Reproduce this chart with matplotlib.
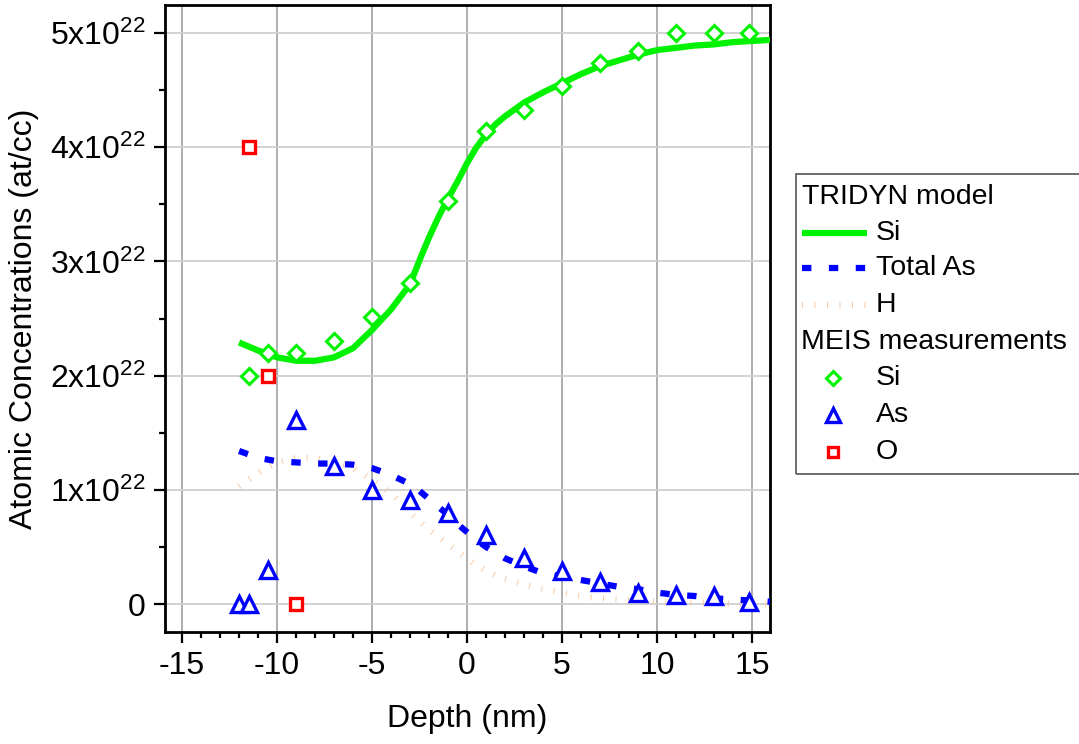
import matplotlib
matplotlib.use('Agg')
import matplotlib.pyplot as plt
from matplotlib.lines import Line2D
from matplotlib.patches import Rectangle
from matplotlib.ticker import MultipleLocator, FuncFormatter

plt.rcParams['font.family'] = ['Liberation Sans', 'DejaVu Sans']
plt.rcParams['mathtext.fontset'] = 'custom'
plt.rcParams['mathtext.rm'] = 'Liberation Sans'
plt.rcParams['mathtext.it'] = 'Liberation Sans:italic'
plt.rcParams['axes.unicode_minus'] = False

# TRIDYN model curves (concentrations in units of 1e22 at/cc)
model_depth = [-12, -11, -10, -9, -8, -7, -6, -5, -4, -3, -2.5, -2, -1.5, -1, -0.5,
               0, 0.5, 1, 1.5, 2, 3, 4, 5, 6, 7, 8, 9, 10, 11, 12, 13, 14, 15, 16]
model_si = [2.29, 2.22, 2.16, 2.13, 2.13, 2.16, 2.24, 2.40, 2.58, 2.80, 3.01, 3.21, 3.39, 3.55, 3.70,
            3.86, 4.00, 4.11, 4.20, 4.27, 4.39, 4.48, 4.56, 4.64, 4.71, 4.76, 4.81, 4.85, 4.87, 4.89,
            4.90, 4.92, 4.93, 4.94]
model_as = [1.34, 1.28, 1.25, 1.24, 1.23, 1.23, 1.22, 1.19, 1.13, 1.05, 0.99, 0.92, 0.85, 0.78, 0.70,
            0.63, 0.56, 0.50, 0.45, 0.40, 0.33, 0.27, 0.24, 0.21, 0.18, 0.15, 0.13, 0.10, 0.08, 0.07,
            0.05, 0.04, 0.03, 0.02]
model_h = [1.03, 1.15, 1.24, 1.28, 1.28, 1.25, 1.19, 1.09, 0.97, 0.80, 0.72, 0.65, 0.59, 0.53, 0.46,
           0.40, 0.34, 0.29, 0.25, 0.22, 0.17, 0.13, 0.10, 0.07, 0.05, 0.04, 0.03, 0.02, 0.02, 0.01,
           0.01, 0.0, 0.0, 0.0]

# MEIS measurements
meis_si_depth = [-11.5, -10.5, -9, -7, -5, -3, -1, 1, 3, 5, 7, 9, 11, 13, 14.85]
meis_si = [2.0, 2.2, 2.2, 2.3, 2.51, 2.81, 3.53, 4.14, 4.33, 4.54, 4.74, 4.84, 5.0, 5.0, 5.0]
meis_as_depth = [-12, -11.5, -10.5, -9, -7, -5, -3, -1, 1, 3, 5, 7, 9, 11, 13, 14.85]
meis_as = [0.0, 0.0, 0.3, 1.61, 1.21, 1.0, 0.91, 0.8, 0.6, 0.4, 0.29, 0.19, 0.1, 0.08, 0.07, 0.02]
meis_o_depth = [-11.5, -10.5, -9]
meis_o = [4.0, 2.0, 0.0]

GREEN = '#00f200'
BLUE = '#0000ff'
RED = '#ff0000'
PEACH = '#f6c8a2'

W, H = 1079, 744
fig = plt.figure(figsize=(W / 100, H / 100), dpi=100)
ax = fig.add_axes([165 / W, 1 - 632 / H, 605 / W, 627 / H])

as_dash = (1.5, 2.8)
h_dash = (0.15, 1.85)

ax.plot(model_depth, model_h, color=PEACH, lw=4.5, dashes=h_dash, dash_capstyle='butt', zorder=2)
ax.plot(model_depth, model_si, color=GREEN, lw=4.5, solid_capstyle='butt', zorder=3)
ax.plot(model_depth, model_as, color=BLUE, lw=4.5, dashes=as_dash, dash_capstyle='butt', zorder=3)

ax.plot(meis_si_depth, meis_si, ls='none', marker='D', ms=8.5, mew=2.2, mec=GREEN, mfc='white', zorder=4)
ax.plot(meis_as_depth, meis_as, ls='none', marker='^', ms=11, mew=2.4, mec=BLUE, mfc='white', zorder=4)
ax.plot(meis_o_depth, meis_o, ls='none', marker='s', ms=8, mew=2.4, mec=RED, mfc='white', zorder=4)

ax.set_xlim(-15.9, 15.95)
ax.set_ylim(-0.245, 5.245)

ax.xaxis.set_major_locator(MultipleLocator(5))
ax.xaxis.set_minor_locator(MultipleLocator(1))
ax.yaxis.set_major_locator(MultipleLocator(1))
ax.yaxis.set_minor_locator(MultipleLocator(0.5))


def ylab(v, pos):
    if abs(v) < 1e-9:
        return '0'
    return r'%dx10$^{22}$' % round(v)


ax.yaxis.set_major_formatter(FuncFormatter(ylab))

ax.grid(True, axis='x', which='major', color='#a8a8a8', lw=1.3, zorder=0)
ax.grid(True, axis='y', which='major', color='#cfcfcf', lw=1.3, zorder=0)
ax.set_axisbelow(True)

for s in ax.spines.values():
    s.set_linewidth(2)
ax.tick_params(which='major', direction='out', length=8, width=1.6, labelsize=23, pad=6)
ax.tick_params(which='minor', direction='out', length=4, width=1.6)
ax.tick_params(top=False, right=False, which='both')

ax.set_xlabel('Depth (nm)', fontsize=23, labelpad=16)
ax.set_ylabel('Atomic Concentrations (at/cc)', fontsize=23, labelpad=8)


# hand-made legend box on the right
def fx(px):
    return px / W


def fy(py):
    return 1 - py / H


fig.add_artist(Rectangle((fx(796), fy(474)), fx(1090) - fx(796), fy(174) - fy(474),
                         transform=fig.transFigure, fill=False, ec='#555555', lw=1.2))

fs_leg = 20.5
fig.text(fx(802), fy(197), 'TRIDYN model', fontsize=fs_leg, va='center', ha='left')
fig.text(fx(801), fy(342), 'MEIS measurements', fontsize=fs_leg, va='center', ha='left')

fig.add_artist(Line2D([fx(802), fx(867)], [fy(233)] * 2, transform=fig.transFigure,
                      color=GREEN, lw=4.5, solid_capstyle='butt'))
fig.add_artist(Line2D([fx(802), fx(867)], [fy(268)] * 2, transform=fig.transFigure,
                      color=BLUE, lw=4.5, dashes=as_dash, dash_capstyle='butt'))
fig.add_artist(Line2D([fx(802), fx(867)], [fy(305)] * 2, transform=fig.transFigure,
                      color=PEACH, lw=4.5, dashes=h_dash, dash_capstyle='butt'))
fig.add_artist(Line2D([fx(833)], [fy(378)], transform=fig.transFigure, ls='none',
                      marker='D', ms=7.5, mew=2.2, mec=GREEN, mfc='white'))
fig.add_artist(Line2D([fx(833)], [fy(415)], transform=fig.transFigure, ls='none',
                      marker='^', ms=10, mew=2.4, mec=BLUE, mfc='white'))
fig.add_artist(Line2D([fx(833)], [fy(452)], transform=fig.transFigure, ls='none',
                      marker='s', ms=7.5, mew=2.4, mec=RED, mfc='white'))

for py, lab in [(233, 'Si'), (268, 'Total As'), (305, 'H'), (378, 'Si'), (415, 'As'), (452, 'O')]:
    fig.text(fx(876), fy(py), lab, fontsize=fs_leg, va='center', ha='left')

plt.savefig('out.png', dpi=100)
